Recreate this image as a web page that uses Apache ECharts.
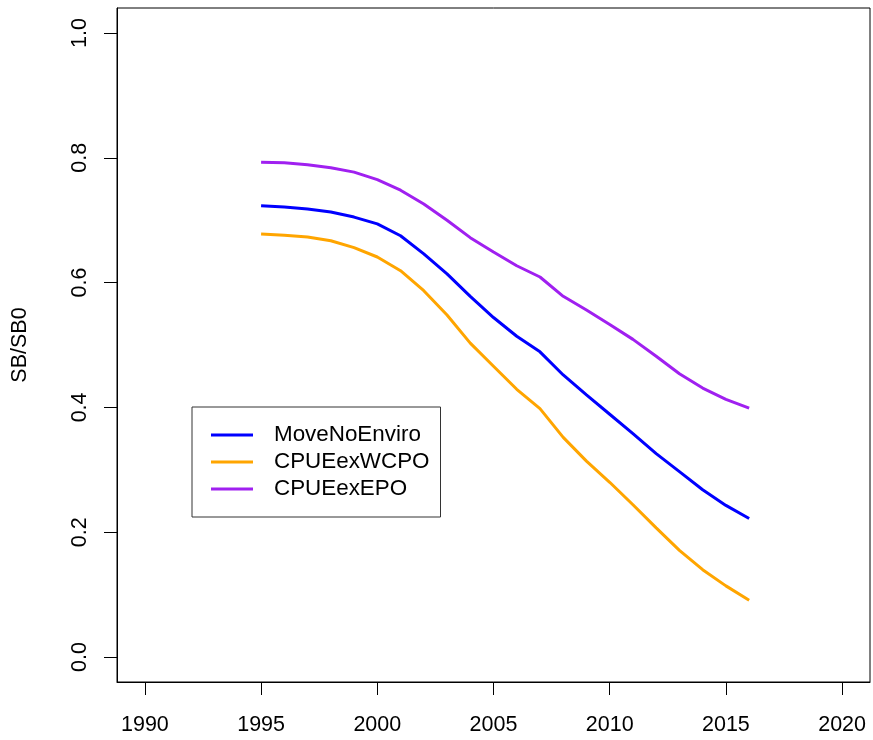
<!DOCTYPE html>
<html>
<head>
<meta charset="utf-8">
<script src="https://cdn.jsdelivr.net/npm/echarts@6/dist/echarts.min.js"></script>
<style>
  html, body { margin: 0; padding: 0; background: #fff; }
  #chart { width: 873px; height: 740px; }
</style>
</head>
<body>
<div id="chart"></div>
<script>
const years = [1995,1996,1997,1998,1999,2000,2001,2002,2003,2004,2005,2006,2007,2008,2009,2010,2011,2012,2013,2014,2015,2016];
const moveNoEnviro = [0.723,0.721,0.718,0.713,0.705,0.694,0.675,0.646,0.614,0.578,0.544,0.514,0.489,0.452,0.420,0.389,0.358,0.326,0.297,0.268,0.243,0.222];
const cpueExWCPO  = [0.678,0.676,0.673,0.667,0.656,0.641,0.619,0.587,0.548,0.503,0.466,0.429,0.398,0.352,0.314,0.280,0.244,0.207,0.171,0.140,0.114,0.091];
const cpueExEPO   = [0.793,0.792,0.789,0.784,0.777,0.765,0.748,0.726,0.700,0.672,0.649,0.627,0.609,0.578,0.556,0.533,0.509,0.482,0.454,0.431,0.413,0.399];
const xTicks = [1990,1995,2000,2005,2010,2015,2020];
const yTicks = [0,0.2,0.4,0.6,0.8,1.0];
const seriesNames = ['MoveNoEnviro','CPUEexWCPO','CPUEexEPO'];
const seriesColors = ['#0000FF','#FFA500','#A020F0'];
const seriesValues = [moveNoEnviro, cpueExWCPO, cpueExEPO];

const FONT = 'Liberation Sans, Arial, sans-serif';
const FS = 21.5;

const chart = echarts.init(document.getElementById('chart'), null, {renderer: 'canvas'});
chart.setOption({
  backgroundColor: '#fff',
  animation: false,
  grid: {
    left: 117, right: 3, top: 8, bottom: 58,
    containLabel: false,
    outerBoundsMode: 'none',
    show: true, borderColor: '#000', borderWidth: 1, backgroundColor: 'transparent'
  },
  legend: {
    orient: 'vertical',
    left: 192, top: 407,
    padding: [17, 11, 17, 19],
    itemGap: 5,
    itemWidth: 42,
    itemHeight: 3,
    icon: 'rect',
    borderColor: '#333',
    borderWidth: 1,
    textStyle: { fontFamily: FONT, fontSize: 22.4, color: '#000', lineHeight: 22, padding: [0,0,0,16] },
    data: seriesNames
  },
  xAxis: {
    type: 'value',
    min: 1988.8, max: 2021.2,
    axisLine: { show: true, onZero: false, lineStyle: { color: '#000', width: 1 } },
    axisTick: { show: true, length: 13, customValues: xTicks, lineStyle: { color: '#000', width: 1 } },
    axisLabel: { customValues: xTicks, margin: 32, fontFamily: FONT, fontSize: FS, color: '#000',
                 formatter: v => String(Math.round(v)) },
    splitLine: { show: false }
  },
  yAxis: {
    type: 'value',
    min: -0.04, max: 1.04,
    name: 'SB/SB0',
    nameLocation: 'middle',
    nameGap: 86,
    nameRotate: 90,
    nameTextStyle: { fontFamily: FONT, fontSize: FS, color: '#000' },
    axisLine: { show: true, onZero: false, lineStyle: { color: '#000', width: 1 } },
    axisTick: { show: true, length: 13, customValues: yTicks, lineStyle: { color: '#000', width: 1 } },
    axisLabel: { customValues: yTicks, rotate: 90, margin: 26, fontFamily: FONT, fontSize: FS, color: '#000',
                 formatter: v => v.toFixed(1) },
    splitLine: { show: false }
  },
  series: seriesNames.map((n, i) => ({
    name: n,
    type: 'line',
    showSymbol: false,
    symbol: 'none',
    color: seriesColors[i],
    lineStyle: { width: 3, color: seriesColors[i] },
    data: years.map((y, j) => [y, seriesValues[i][j]])
  }))
});
</script>
</body>
</html>
